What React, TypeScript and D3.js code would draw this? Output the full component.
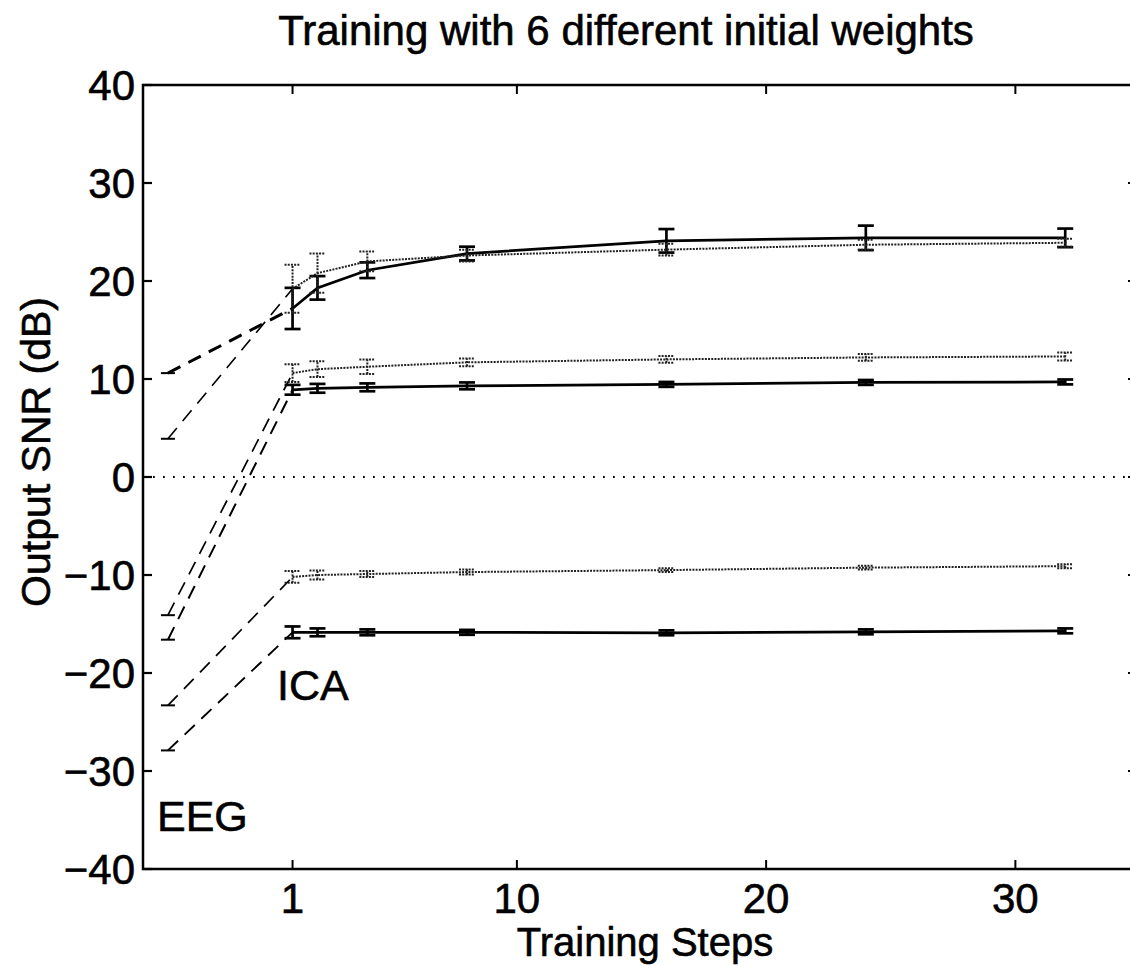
import React from "react";
import * as d3 from "d3";

// ---- data ----
const steps = [1, 2, 4, 8, 16, 24, 32];
const eegStep = -4;
const xTicks = [1, 10, 20, 30];
const yTicks = [-40, -30, -20, -10, 0, 10, 20, 30, 40];

const runAMean = [17.2, 19.3, 21.1, 22.8, 24.1, 24.4, 24.4];
const runAErr = [2.1, 1.2, 0.8, 0.7, 1.2, 1.25, 0.95];
const runAEeg = 10.6;

const runBMean = [19.2, 20.8, 22.0, 22.6, 23.2, 23.7, 23.9];
const runBErr = [2.45, 2.0, 1.0, 0.6, 0.6, 0.5, 0.4];
const runBEeg = 3.9;

const runCMean = [10.6, 11.0, 11.25, 11.7, 12.0, 12.2, 12.3];
const runCErr = [0.9, 0.8, 0.75, 0.4, 0.35, 0.35, 0.4];
const runCEeg = -14.1;

const runDMean = [8.9, 9.05, 9.15, 9.3, 9.45, 9.65, 9.7];
const runDErr = [0.5, 0.45, 0.4, 0.35, 0.25, 0.25, 0.25];
const runDEeg = -16.6;

const runEMean = [-10.2, -10.0, -9.9, -9.7, -9.5, -9.25, -9.1];
const runEErr = [0.6, 0.45, 0.3, 0.25, 0.2, 0.2, 0.2];
const runEEeg = -23.3;

const runFMean = [-15.85, -15.85, -15.85, -15.85, -15.9, -15.8, -15.7];
const runFErr = [0.6, 0.4, 0.3, 0.25, 0.25, 0.25, 0.25];
const runFEeg = -27.9;

const runs = [
  { mean: runAMean, err: runAErr, eeg: runAEeg, style: "solid", dashW: 3 },
  { mean: runBMean, err: runBErr, eeg: runBEeg, style: "dotted", dashW: 1.6 },
  { mean: runCMean, err: runCErr, eeg: runCEeg, style: "dotted", dashW: 1.7 },
  { mean: runDMean, err: runDErr, eeg: runDEeg, style: "solid", dashW: 2 },
  { mean: runEMean, err: runEErr, eeg: runEEeg, style: "dotted", dashW: 1.7 },
  { mean: runFMean, err: runFErr, eeg: runFEeg, style: "solid", dashW: 1.9 },
];

const FONT = "'Liberation Sans', Arial, Helvetica, sans-serif";

export default function App() {
  const left = 143, right = 1140, top = 85, bottom = 869;
  const x = d3.scaleLinear().domain([-5, 35]).range([left, right]);
  const y = d3.scaleLinear().domain([-40, 40]).range([bottom, top]);
  const line = d3.line<[number, number]>().x((d) => x(d[0])).y((d) => y(d[1]));
  const txt = { fill: "#000", stroke: "#000", strokeWidth: 0.6 };

  return (
    <svg
      width={1130}
      height={966}
      style={{ position: "absolute", left: 0, top: 0, background: "#fff" }}
      fontFamily={FONT}
    >
      <rect x={0} y={0} width={1130} height={966} fill="#fff" />
      {/* title */}
      <text x={626} y={45} textAnchor="middle" fontSize={42} {...txt}>
        Training with 6 different initial weights
      </text>

      {/* zero line */}
      <path
        d={line([[-5, 0], [35, 0]])!}
        stroke="#000"
        strokeWidth={2.2}
        strokeDasharray="1.8,8.2"
        fill="none"
      />

      {/* dashed EEG -> ICA lines */}
      {runs.map((r, i) => (
        <path
          key={"d" + i}
          d={line([[eegStep, r.eeg], [steps[0], r.mean[0]]])!}
          stroke="#000"
          strokeWidth={r.dashW}
          strokeDasharray="14,9"
          fill="none"
        />
      ))}
      {/* EEG start markers */}
      {runs.map((r, i) => (
        <g key={"m" + i} stroke="#000" strokeWidth={2}>
          <line x1={x(eegStep) - 7} x2={x(eegStep) + 7} y1={y(r.eeg)} y2={y(r.eeg)} />
        </g>
      ))}

      {/* ICA curves */}
      {runs.map((r, i) => {
        const pts: [number, number][] = steps.map((s, j) => [s, r.mean[j]]);
        const solid = r.style === "solid";
        return (
          <g key={"c" + i}>
            <path
              d={line(pts)!}
              stroke={solid ? "#000" : "#222"}
              strokeWidth={solid ? 2.7 : 2}
              strokeDasharray={solid ? undefined : "2,1.2"}
              fill="none"
            />
            {steps.map((s, j) => {
              const cx = x(s);
              const lo = y(r.mean[j] - r.err[j]);
              const hi = y(r.mean[j] + r.err[j]);
              const hw = 8;
              return (
                <g
                  key={j}
                  stroke={solid ? "#000" : "#222"}
                  strokeWidth={solid ? 2.7 : 2}
                  strokeDasharray={solid ? undefined : "2,1.2"}
                >
                  <line x1={cx} x2={cx} y1={lo} y2={hi} />
                  <line x1={cx - hw} x2={cx + hw} y1={lo} y2={lo} />
                  <line x1={cx - hw} x2={cx + hw} y1={hi} y2={hi} />
                </g>
              );
            })}
          </g>
        );
      })}

      {/* axes box */}
      <rect
        x={left}
        y={top}
        width={right - left}
        height={bottom - top}
        fill="none"
        stroke="#000"
        strokeWidth={2.5}
      />
      {xTicks.map((t) => (
        <g key={"xt" + t} stroke="#000" strokeWidth={2}>
          <line x1={x(t)} x2={x(t)} y1={bottom} y2={bottom - 9} />
          <line x1={x(t)} x2={x(t)} y1={top} y2={top + 9} />
        </g>
      ))}
      {yTicks.map((t) => (
        <g key={"yt" + t} stroke="#000" strokeWidth={2.2}>
          <line x1={left} x2={left + 9} y1={y(t)} y2={y(t)} />
          <line x1={right} x2={right - 12} y1={y(t)} y2={y(t)} />
        </g>
      ))}

      {/* tick labels */}
      {xTicks.map((t) => (
        <text key={"xl" + t} x={x(t)} y={913} textAnchor="middle" fontSize={42} {...txt}>
          {String(t)}
        </text>
      ))}
      {yTicks.map((t) => (
        <text
          key={"yl" + t}
          x={135}
          y={y(t) + 15}
          textAnchor="end"
          fontSize={42}
          {...txt}
        >
          {t < 0 ? "\u2212" + Math.abs(t) : String(t)}
        </text>
      ))}

      {/* axis labels */}
      <text x={645} y={956} textAnchor="middle" fontSize={40} {...txt}>
        Training Steps
      </text>
      <text
        transform={`translate(50, 452) rotate(-90)`}
        textAnchor="middle"
        fontSize={41}
        {...txt}
      >
        Output SNR (dB)
      </text>

      {/* annotations */}
      <text x={277} y={700} fontSize={43} {...txt}>ICA</text>
      <text x={157} y={831} fontSize={43} {...txt}>EEG</text>
    </svg>
  );
}
